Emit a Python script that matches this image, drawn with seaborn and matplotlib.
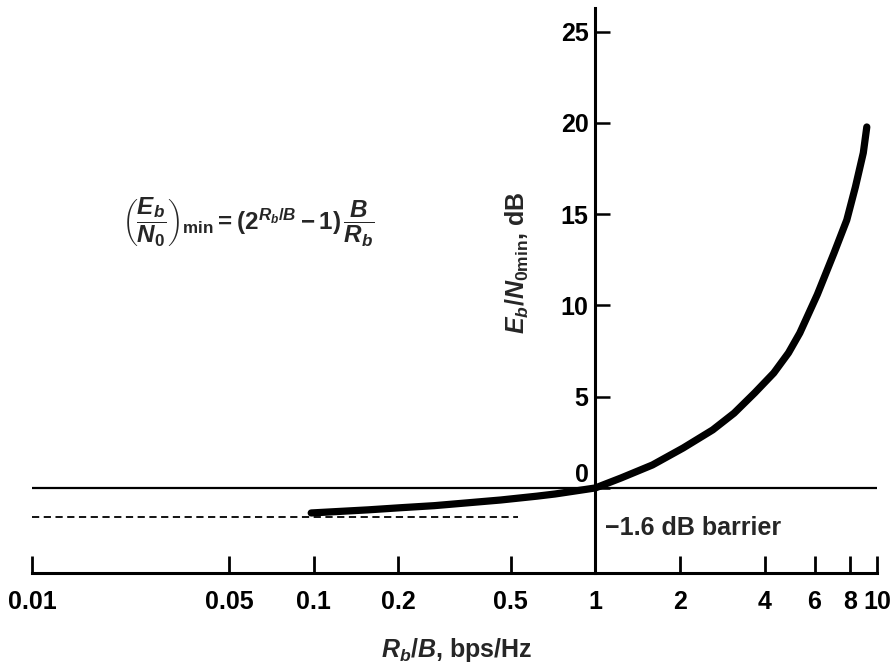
import matplotlib
matplotlib.use("Agg")
import matplotlib.pyplot as plt
import matplotlib.transforms as mtransforms
import seaborn as sns
import pandas as pd

# ---- data ----
rate = [0.098, 0.156, 0.205, 0.268, 0.461, 0.62, 0.72, 1.0, 1.235, 1.595,
        2.05, 2.61, 3.11, 3.68, 4.30, 4.85, 5.32, 6.14, 7.04, 7.81,
        8.38, 8.94, 9.20]
ebn0_db = [-1.37, -1.2, -1.08, -0.97, -0.66, -0.45, -0.33, 0.0, 0.55, 1.26,
           2.19, 3.18, 4.1, 5.21, 6.30, 7.40, 8.49, 10.6, 12.88, 14.68,
           16.49, 18.36, 19.78]
barrier_db = -1.6
barrier_x = [0.01, 0.53]
x_ticks = [0.01, 0.05, 0.1, 0.2, 0.5, 1, 2, 4, 6, 8, 10]
x_tick_labels = ["0.01", "0.05", "0.1", "0.2", "0.5", "1", "2", "4", "6", "8", "10"]
y_ticks = [0, 5, 10, 15, 20, 25]
y_tick_labels = ["0", "5", "10", "15", "20", "25"]

sns.set_style("white")
plt.rcParams["font.family"] = ["Liberation Sans", "DejaVu Sans"]
plt.rcParams["font.weight"] = "bold"
plt.rcParams["mathtext.fontset"] = "custom"
plt.rcParams["mathtext.it"] = "Liberation Sans:italic:bold"
plt.rcParams["mathtext.rm"] = "Liberation Sans:bold"
plt.rcParams["mathtext.bf"] = "Liberation Sans:bold"

W, H = 894, 665
fig = plt.figure(figsize=(W / 100, H / 100), dpi=100)
x0, x1 = 32, 877
y0, y1 = 573, 8
ax = fig.add_axes([x0 / W, (H - y0) / H, (x1 - x0) / W, (y0 - y1) / H])

df = pd.DataFrame({"rate": rate, "ebn0": ebn0_db})
sns.lineplot(data=df, x="rate", y="ebn0", ax=ax, color="black", linewidth=5.2,
             estimator=None, sort=False, solid_capstyle="round",
             solid_joinstyle="round")

ax.set_xscale("log")
ax.set_xlim(0.01, 10)
ax.set_ylim(-4.66, 26.3)

# reference lines
ax.axhline(0, color="black", linewidth=1.6, zorder=1)
ax.plot(barrier_x, [barrier_db, barrier_db], color="black", linewidth=1.3,
        linestyle=(0, (4, 2.5)), zorder=1)

# spines
for s in ["top", "right"]:
    ax.spines[s].set_visible(False)
ax.spines["left"].set_position(("data", 1))
for s in ["left", "bottom"]:
    ax.spines[s].set_linewidth(2.2)
    ax.spines[s].set_color("black")

ax.set_xticks(x_ticks)
ax.set_xticklabels(x_tick_labels)
ax.xaxis.set_minor_locator(matplotlib.ticker.NullLocator())
ax.set_yticks(y_ticks)
ax.set_yticklabels(y_tick_labels)
ax.tick_params(axis="x", direction="in", length=12, width=2, pad=12,
               labelsize=18, colors="black", bottom=True)
ax.tick_params(axis="y", direction="in", length=11, width=1.8, pad=5,
               labelsize=18, colors="black", left=True)
for lab in ax.get_xticklabels() + ax.get_yticklabels():
    lab.set_fontweight("bold")

# lift the "0" label above the zero line, as in the original
zero_tick = ax.yaxis.get_major_ticks()[0]
zero_tick.label1.set_transform(zero_tick.label1.get_transform() +
                               mtransforms.ScaledTranslation(0, 0.15, fig.dpi_scale_trans))

ax.set_xlabel(r"$R_b/B$, bps/Hz", fontsize=18, fontweight="bold")
ax.xaxis.set_label_coords((457 - x0) / (x1 - x0), -(636 - y0) / (y0 - y1))
ax.set_ylabel(r"$E_b/N_{0\mathrm{min}}$, dB", fontsize=18, fontweight="bold")
ax.yaxis.set_label_coords((531 - x0) / (x1 - x0), (y0 - 263) / (y0 - y1))

# formula
fig.text(122 / W, 1 - 222 / H,
         r"$\left(\dfrac{E_b}{N_0}\right)_{\mathrm{min}} = (2^{R_b/B} - 1)\,\dfrac{B}{R_b}$",
         fontsize=17.5, ha="left", va="center")

# barrier annotation
fig.text(605 / W, 1 - 528 / H, "\u22121.6 dB barrier", fontsize=18,
         fontweight="bold", ha="left", va="center")

fig.savefig("out.png", dpi=100, facecolor="white")
